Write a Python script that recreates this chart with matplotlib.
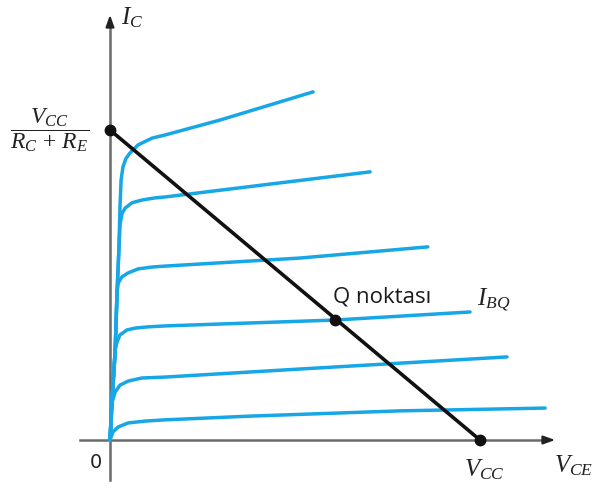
import matplotlib
matplotlib.use("Agg")
import matplotlib.pyplot as plt

plt.rcParams['mathtext.fontset'] = 'custom'
plt.rcParams['mathtext.rm'] = 'Liberation Serif'
plt.rcParams['mathtext.it'] = 'Liberation Serif:italic'

# Data (V_CE in volts, I_C in mA)
VCC = 10.0
IC_SAT = 10.0

c1_v = [0, 0.08, 0.22, 0.49, 0.95, 1.49, 3.78, 7.84, 11.76]
c1_i = [0, 0.26, 0.42, 0.55, 0.61, 0.65, 0.77, 0.94, 1.03]

c2_v = [0, 0.03, 0.05, 0.14, 0.27, 0.49, 0.86, 1.49, 5.14, 10.73]
c2_i = [0, 0.48, 1.19, 1.55, 1.77, 1.90, 2.00, 2.03, 2.29, 2.68]

c3_v = [0, 0.05, 0.11, 0.14, 0.19, 0.27, 0.46, 0.68, 1.03, 1.49, 6.08, 9.73]
c3_i = [0, 1.19, 2.26, 2.90, 3.16, 3.39, 3.55, 3.61, 3.65, 3.68, 3.87, 4.13]

c4_v = [0, 0.05, 0.14, 0.19, 0.22, 0.32, 0.49, 0.76, 1.14, 1.49, 5.14, 8.59]
c4_i = [0, 1.19, 2.90, 4.74, 5.06, 5.26, 5.39, 5.52, 5.58, 5.61, 5.87, 6.23]

c5_v = [0, 0.05, 0.14, 0.19, 0.24, 0.27, 0.33, 0.41, 0.59, 0.86, 1.22, 1.49, 7.03]
c5_i = [0, 1.19, 2.90, 4.74, 6.13, 6.95, 7.32, 7.48, 7.65, 7.74, 7.81, 7.84, 8.65]

c6_v = [0, 0.05, 0.14, 0.19, 0.24, 0.27, 0.30, 0.35, 0.43, 0.54, 0.76, 1.14, 1.49, 2.97, 5.49]
c6_i = [0, 1.19, 2.90, 4.74, 6.13, 7.52, 8.39, 8.81, 9.08, 9.26, 9.52, 9.74, 9.84, 10.32, 11.23]

curves = [(c1_v, c1_i), (c2_v, c2_i), (c3_v, c3_i),
          (c4_v, c4_i), (c5_v, c5_i), (c6_v, c6_i)]

Q_V = 6.08
Q_I = 3.87

fig = plt.figure(figsize=(5.94, 4.91), dpi=100)
ax = fig.add_axes([0, 0, 1, 1])
ax.set_xlim(-110/37, (594-110)/37)
ax.set_ylim((440-491)/31, 440/31)
ax.axis('off')

blue = '#17a6e6'
for v, i in curves:
    ax.plot(v, i, color=blue, lw=2.5, solid_capstyle='round', solid_joinstyle='round', zorder=2)

# axes
axc = '#6a6a6a'
ax.plot([-30/37, (548-110)/37], [0, 0], color=axc, lw=1.8, zorder=1)
ax.plot([0, 0], [-40/31, (440-22)/31], color=axc, lw=1.8, zorder=1)
ax.annotate('', xy=((558-110)/37, 0), xytext=((540-110)/37, 0),
            arrowprops=dict(arrowstyle='-|>,head_length=0.7,head_width=0.25', color='#222', lw=1.5))
ax.annotate('', xy=(0, (440-12)/31), xytext=(0, (440-30)/31),
            arrowprops=dict(arrowstyle='-|>,head_length=0.7,head_width=0.25', color='#222', lw=1.5))

# load line
ax.plot([0, VCC], [IC_SAT, 0], color='#111', lw=2.6, zorder=3, solid_capstyle='round')
ax.plot([0, VCC, Q_V], [IC_SAT, 0, Q_I], 'o', color='#111', ms=7.5, zorder=4)

# labels
ax.text((121-110)/37, (440-18)/31, r'$I_C$', fontsize=18, ha='left', va='center', color='#222')
ax.text((50-110)/37, (440-130)/31, r'$\dfrac{V_{CC}}{R_C\,+\,R_E}$', fontsize=17, ha='center', va='center', color='#222')
ax.text((96-110)/37, (440-463)/31, '0', fontsize=14, ha='center', va='center', family='DejaVu Sans', color='#222')
ax.text((484-110)/37, (440-470)/31, r'$V_{CC}$', fontsize=18, ha='center', va='center', color='#222')
ax.text((574-110)/37, (440-466)/31, r'$V_{CE}$', fontsize=18, ha='center', va='center', color='#222')
ax.text((333-110)/37, (440-297)/31, 'Q noktası', fontsize=16, ha='left', va='center',
        family='Open Sans', color='#1a1a1a')
ax.text((477-110)/37, (440-300)/31, r'$I_{BQ}$', fontsize=18, ha='left', va='center', color='#222')

fig.savefig('out.png', dpi=100)
